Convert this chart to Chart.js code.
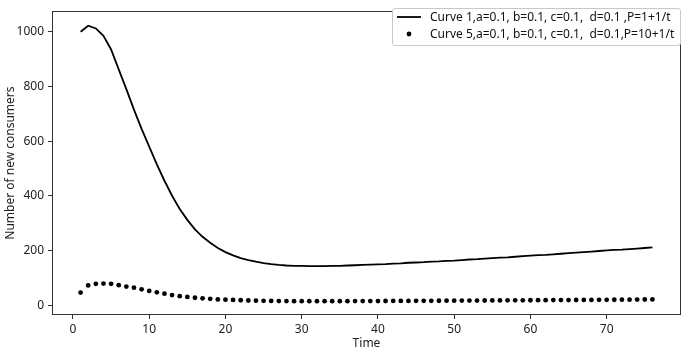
<!DOCTYPE html>
<html>
<head>
<meta charset="utf-8">
<script src="https://cdn.jsdelivr.net/npm/chart.js@4/dist/chart.umd.min.js"></script>
<style>
  html,body{margin:0;padding:0;background:#fff;}
  #wrap{position:relative;width:685px;height:350px;}
  canvas{display:block;}
  #legend{position:absolute;left:392px;top:8px;width:287px;height:36px;border:1px solid #c8c8c8;border-radius:3px;background:#fff;
    font-family:"Noto Sans","Open Sans",sans-serif;font-size:12px;color:#111;}
  .row{position:absolute;left:0;height:16px;line-height:16px;white-space:nowrap;}
  .row span{position:absolute;left:37px;top:0;}
  .row svg{position:absolute;left:3px;top:0;}
</style>
</head>
<body>
<div id="wrap">
<canvas id="c" width="685" height="350"></canvas>
<div id="legend">
  <div class="row" style="top:0px"><svg width="26" height="16"><line x1="1" y1="8" x2="25" y2="8" stroke="#000" stroke-width="1.8"/></svg><span>Curve 1,a=0.1, b=0.1, c=0.1,&nbsp; d=0.1 ,P=1+1/t</span></div>
  <div class="row" style="top:17px"><svg width="26" height="16"><circle cx="13" cy="8" r="2.4" fill="#000"/></svg><span>Curve 5,a=0.1, b=0.1, c=0.1,&nbsp; d=0.1,P=10+1/t</span></div>
</div>
</div>
<script>
const timeSteps = Array.from({length: 76}, (_, i) => i + 1);
const curve1 = [1000,1022,1012,985,935,862,790,715,645,580,515,455,400,352,312,277,250,228,209,194,182,172,165,159,154,150,147,145,144,143.5,143,143,143,143.5,144,145,146,147,148,149,150,152,153,155,156,157,159,160,162,163,165,167,168,170,172,174,175,177,179,181,183,184,186,188,190,192,194,196,198,200,202,203,205,207,209,211];
const curve5 = [46,72,78,79,78,73,68,64,58,52,47,42,37,33,30,27,25,23,21,20,19,18,17,16.5,16,15.5,15,15,14.5,14.5,14.5,14.5,14.5,14.5,14.6,14.7,14.8,14.9,15,15.1,15.2,15.3,15.4,15.5,15.7,15.8,16,16.1,16.3,16.4,16.6,16.7,16.9,17,17.2,17.3,17.5,17.6,17.8,17.9,18.1,18.2,18.4,18.5,18.7,18.8,19,19.2,19.4,19.6,19.8,20,20.2,20.4,20.6,20.8];
const xTicks = [0,10,20,30,40,50,60,70];
const yTicks = [0,200,400,600,800,1000];
const seriesLabels = ["Curve 1,a=0.1, b=0.1, c=0.1,  d=0.1 ,P=1+1/t", "Curve 5,a=0.1, b=0.1, c=0.1,  d=0.1,P=10+1/t"];

const FONT = '"Noto Sans","Open Sans",sans-serif';
Chart.defaults.font.family = FONT;
Chart.defaults.font.size = 12;
Chart.defaults.color = '#222';

const frame = {
  id: 'frame',
  afterDraw(chart) {
    const {ctx, chartArea: a} = chart;
    ctx.save();
    ctx.strokeStyle = '#333';
    ctx.lineWidth = 1;
    ctx.strokeRect(Math.round(a.left) + 0.5, Math.round(a.top) + 0.5, Math.round(a.right - a.left) - 1, Math.round(a.bottom - a.top) - 1);
    ctx.restore();
  }
};

new Chart(document.getElementById('c'), {
  type: 'line',
  data: {
    datasets: [
      { label: seriesLabels[0], data: timeSteps.map((t, i) => ({x: t, y: curve1[i]})),
        borderColor: '#000', borderWidth: 1.8, pointRadius: 0, fill: false, tension: 0 },
      { label: seriesLabels[1], data: timeSteps.map((t, i) => ({x: t, y: curve5[i]})),
        showLine: false, pointRadius: 2.4, pointBackgroundColor: '#000', pointBorderWidth: 0, borderColor: '#000' }
    ]
  },
  options: {
    responsive: false,
    animation: false,
    layout: { padding: { left: 0, right: 2, top: 1, bottom: 0 } },
    plugins: { legend: { display: false }, tooltip: { enabled: false } },
    scales: {
      x: {
        type: 'linear', min: -2.75, max: 79.75,
        afterBuildTicks: s => { s.ticks = xTicks.map(v => ({value: v})); },
        afterFit: s => { s.height = 35; },
        grid: { drawOnChartArea: false, drawTicks: true, tickLength: 4, color: '#333' },
        border: { display: false },
        ticks: { padding: 3, color: '#222', maxRotation: 0, callback: v => String(v) },
        title: { display: true, text: 'Time', color: '#222', padding: { top: 0, bottom: -1 } }
      },
      y: {
        min: -36, max: 1075,
        afterBuildTicks: s => { s.ticks = yTicks.map(v => ({value: v})); },
        afterFit: s => { s.width = 52; },
        grid: { drawOnChartArea: false, drawTicks: true, tickLength: 4, color: '#333' },
        border: { display: false },
        ticks: { padding: 4, color: '#222', callback: v => String(v) },
        title: { display: true, text: 'Number of new consumers', color: '#222', padding: { top: 3, bottom: 0 } }
      }
    }
  },
  plugins: [frame]
});
</script>
</body>
</html>
